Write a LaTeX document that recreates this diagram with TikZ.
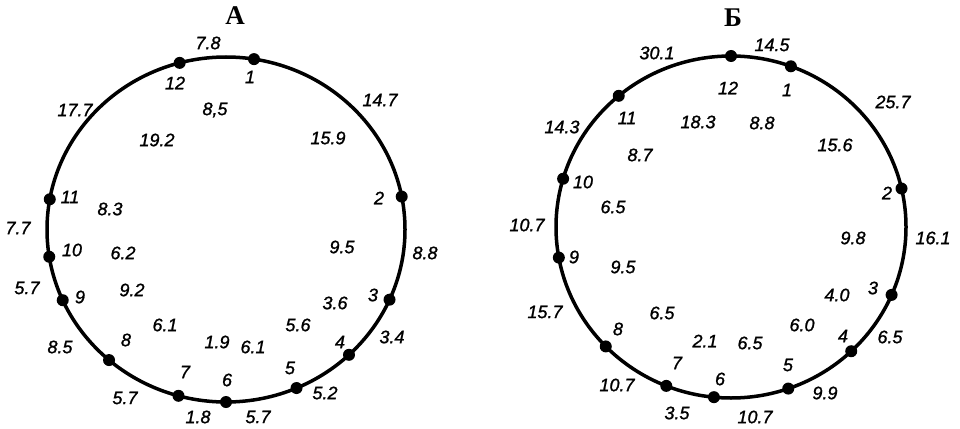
\documentclass[tikz,border=0pt]{standalone}
\usepackage{fontspec}
\usetikzlibrary{calc}
\newfontfamily\handfont{Liberation Sans}[FakeBold=1.2]
\newfontfamily\titlefont{Liberation Serif}
\begin{document}
\begin{tikzpicture}[x=1pt,y=-1pt,
  ring/.style={line width=3.5pt},
  dot/.style={circle,fill=black,inner sep=0pt,minimum size=12pt},
  lab/.style={font=\handfont\itshape\fontsize{18}{18}\selectfont,inner sep=0pt},
  ttl/.style={font=\titlefont\bfseries\fontsize{27}{27}\selectfont,inner sep=0pt}]
\useasboundingbox (0,0) rectangle (960,428);
% ---------- A ----------
\coordinate (ca) at (226,229.5);
\draw[ring] (ca) ellipse [x radius=179, y radius=172.5];
\foreach \n/\a in {12/255,1/279,2/349,3/24,4/46.6,5/66.8,6/90,7/105.4,8/130.8,9/155.8,10/170.9,11/190.1}
  \node[dot] (a\n) at ($(ca)+(\a:179 and 172.5)$) {};
\node[ttl] (ta) at (235,16) {А};
\node[lab] (la1) at (208,43) {7.8};
\node[lab] (la2) at (175,83) {12};
\node[lab] (la3) at (250,77) {1};
\node[lab] (la4) at (75,110) {17.7};
\node[lab] (la5) at (215,110) {8,5};
\node[lab] (la6) at (157,140) {19.2};
\node[lab] (la7) at (380,100) {14.7};
\node[lab] (la8) at (328,138) {15.9};
\node[lab] (la9) at (70,197) {11};
\node[lab] (la10) at (110,209) {8.3};
\node[lab] (la11) at (379,198) {2};
\node[lab] (la12) at (18,228) {7.7};
\node[lab] (la13) at (72,250) {10};
\node[lab] (la14) at (123,253) {6.2};
\node[lab] (la15) at (342,247) {9.5};
\node[lab] (la16) at (425,253) {8.8};
\node[lab] (la17) at (27,288) {5.7};
\node[lab] (la18) at (80,297) {9};
\node[lab] (la19) at (132,290) {9.2};
\node[lab] (la20) at (373,295) {3};
\node[lab] (la21) at (335,303) {3.6};
\node[lab] (la22) at (165,325) {6.1};
\node[lab] (la23) at (298,325) {5.6};
\node[lab] (la24) at (392,337) {3.4};
\node[lab] (la25) at (60,347) {8.5};
\node[lab] (la26) at (126,340) {8};
\node[lab] (la27) at (217,342) {1.9};
\node[lab] (la28) at (253,347) {6.1};
\node[lab] (la29) at (340,342) {4};
\node[lab] (la30) at (185,372) {7};
\node[lab] (la31) at (227,380) {6};
\node[lab] (la32) at (290,368) {5};
\node[lab] (la33) at (125,398) {5.7};
\node[lab] (la34) at (198,417) {1.8};
\node[lab] (la35) at (258,417) {5.7};
\node[lab] (la36) at (325,393) {5.2};
% ---------- B ----------
\coordinate (cb) at (731,227);
\draw[ring] (cb) ellipse [x radius=175, y radius=171];
\foreach \n/\a in {12/270,1/290,2/347,3/23.4,4/46.6,5/70.9,6/95.6,7/111.7,8/135.7,9/169.7,10/196.4,11/230.1}
  \node[dot] (b\n) at ($(cb)+(\a:175 and 171)$) {};
\node[ttl] (tb) at (733,18) {Б};
\node[lab] (lb1) at (657,53) {30.1};
\node[lab] (lb2) at (772,45) {14.5};
\node[lab] (lb3) at (728,88) {12};
\node[lab] (lb4) at (787,90) {1};
\node[lab] (lb5) at (893,102) {25.7};
\node[lab] (lb6) at (562,127) {14.3};
\node[lab] (lb7) at (627,118) {11};
\node[lab] (lb8) at (698,122) {18.3};
\node[lab] (lb9) at (762,123) {8.8};
\node[lab] (lb10) at (835,145) {15.6};
\node[lab] (lb11) at (640,155) {8.7};
\node[lab] (lb12) at (583,182) {10};
\node[lab] (lb13) at (613,207) {6.5};
\node[lab] (lb14) at (887,193) {2};
\node[lab] (lb15) at (527,225) {10.7};
\node[lab] (lb16) at (853,238) {9.8};
\node[lab] (lb17) at (933,238) {16.1};
\node[lab] (lb18) at (574,257) {9};
\node[lab] (lb19) at (623,267) {9.5};
\node[lab] (lb20) at (837,295) {4.0};
\node[lab] (lb21) at (873,288) {3};
\node[lab] (lb22) at (545,312) {15.7};
\node[lab] (lb23) at (662,313) {6.5};
\node[lab] (lb24) at (802,325) {6.0};
\node[lab] (lb25) at (618,329) {8};
\node[lab] (lb26) at (843,336) {4};
\node[lab] (lb27) at (890,337) {6.5};
\node[lab] (lb28) at (705,341) {2.1};
\node[lab] (lb29) at (750,343) {6.5};
\node[lab] (lb30) at (677,363) {7};
\node[lab] (lb31) at (720,379) {6};
\node[lab] (lb32) at (788,365) {5};
\node[lab] (lb33) at (617,385) {10.7};
\node[lab] (lb34) at (825,393) {9.9};
\node[lab] (lb35) at (677,413) {3.5};
\node[lab] (lb36) at (755,417) {10.7};
\end{tikzpicture}
\end{document}
